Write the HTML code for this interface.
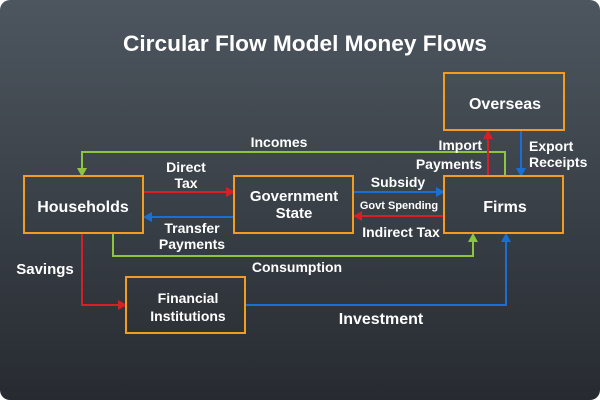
<!DOCTYPE html>
<html><head><meta charset="utf-8"><style>
html,body{margin:0;padding:0;background:#fff;}
svg{display:block;}
text{font-family:"Liberation Sans",sans-serif;fill:#fff;font-weight:bold;}
</style></head><body>
<svg width="600" height="400" viewBox="0 0 600 400">
<defs>
<linearGradient id="bg" x1="0" y1="0" x2="0" y2="1">
<stop offset="0" stop-color="#4d565f"/><stop offset="1" stop-color="#272b31"/>
</linearGradient>
</defs>
<rect x="0" y="0" width="600" height="400" rx="10" fill="url(#bg)"/>
<text x="123" y="51" font-size="22" textLength="364" lengthAdjust="spacingAndGlyphs">Circular Flow Model Money Flows</text>

<g fill="none" stroke-width="2">
<polyline points="505,176 505,152 82,152 82,168" stroke="#8cc63f"/>
<polygon points="77,168 87,168 82,177" fill="#8cc63f" stroke="none"/>
<line x1="143" y1="192" x2="226" y2="192" stroke="#d71f26"/>
<polygon points="226,187 226,197 235,192" fill="#d71f26" stroke="none"/>
<line x1="234" y1="217" x2="152" y2="217" stroke="#1a6fd4"/>
<polygon points="152,212 152,222 143,217" fill="#1a6fd4" stroke="none"/>
<line x1="353" y1="192" x2="436" y2="192" stroke="#1a6fd4"/>
<polygon points="436,187 436,197 445,192" fill="#1a6fd4" stroke="none"/>
<line x1="444" y1="216" x2="362" y2="216" stroke="#d71f26"/>
<polygon points="362,211 362,221 353,216" fill="#d71f26" stroke="none"/>
<polyline points="113,233 113,256 473,256 473,242" stroke="#8cc63f"/>
<polygon points="468,242 478,242 473,233" fill="#8cc63f" stroke="none"/>
<polyline points="82,233 82,305 118,305" stroke="#d71f26"/>
<polygon points="118,300 118,310 127,305" fill="#d71f26" stroke="none"/>
<polyline points="245,305 506,305 506,242" stroke="#1a6fd4"/>
<polygon points="501,242 511,242 506,233" fill="#1a6fd4" stroke="none"/>
<line x1="488" y1="176" x2="488" y2="139" stroke="#d71f26"/>
<polygon points="483,139 493,139 488,130" fill="#d71f26" stroke="none"/>
<line x1="521" y1="130" x2="521" y2="168" stroke="#1a6fd4"/>
<polygon points="516,168 526,168 521,177" fill="#1a6fd4" stroke="none"/>
</g>

<g fill="none" stroke="#f39c1f" stroke-width="2">
<rect x="24" y="176" width="119" height="57"/>
<rect x="234" y="176" width="119" height="57"/>
<rect x="444" y="176" width="119" height="57"/>
<rect x="444" y="73" width="120" height="57"/>
<rect x="126" y="277" width="119" height="56"/>
</g>

<g font-size="16" text-anchor="middle">
<text x="83" y="212">Households</text>
<text x="294" y="201" font-size="15">Government</text>
<text x="294" y="218" font-size="15">State</text>
<text x="505" y="212">Firms</text>
<text x="505" y="109">Overseas</text>
<text x="188" y="303" font-size="14">Financial</text>
<text x="188" y="321" font-size="14">Institutions</text>
</g>

<g font-size="14" text-anchor="middle">
<text x="279" y="147">Incomes</text>
<text x="186" y="172">Direct</text>
<text x="186" y="188">Tax</text>
<text x="192" y="233">Transfer</text>
<text x="192" y="249">Payments</text>
<text x="398" y="187">Subsidy</text>
<text x="399" y="209" font-size="11">Govt Spending</text>
<text x="401" y="237">Indirect Tax</text>
<text x="297" y="272">Consumption</text>
<text x="45" y="274" font-size="15">Savings</text>
<text x="381" y="324" font-size="16">Investment</text>
<text x="482" y="150" text-anchor="end">Import</text>
<text x="482" y="169" text-anchor="end">Payments</text>
<text x="529" y="151" text-anchor="start">Export</text>
<text x="529" y="167" text-anchor="start">Receipts</text>
</g>
</svg>
</body></html>
